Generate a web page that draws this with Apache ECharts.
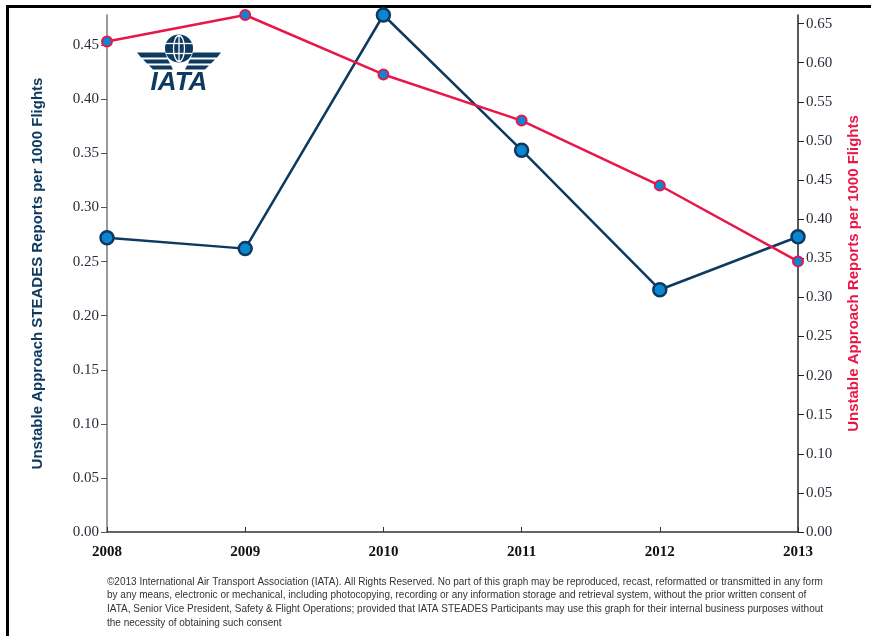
<!DOCTYPE html>
<html>
<head>
<meta charset="utf-8">
<script src="https://cdn.jsdelivr.net/npm/echarts@6/dist/echarts.min.js"></script>
<style>
  html, body { margin: 0; padding: 0; background: #fff; }
  #frame { position: absolute; left: 6px; top: 5px; width: 871px; height: 640px;
           border-left: 3px solid #000; border-top: 3px solid #000; }
  #main { position: absolute; left: 0; top: 0; width: 871px; height: 636px; }
</style>
</head>
<body>
<div id="frame"></div>
<div id="main"></div>
<script>
// data
var years = ['2008', '2009', '2010', '2011', '2012', '2013'];
var steadesRate = [0.272, 0.262, 0.478, 0.353, 0.224, 0.273];   // left axis
var unstableRate = [0.627, 0.661, 0.585, 0.526, 0.443, 0.346];  // right axis

var footer = '\u00a92013 International Air Transport Association (IATA). All Rights Reserved. No part of this graph may be reproduced, recast, reformatted or transmitted in any form\n' +
  'by any means, electronic or mechanical, including photocopying, recording or any information storage and retrieval system, without the prior written consent of\n' +
  'IATA, Senior Vice President, Safety & Flight Operations; provided that IATA STEADES Participants may use this graph for their internal business purposes without\n' +
  'the necessity of obtaining such consent';

var navy = '#0e3a60';
var red = '#e8174a';
var dotBlue = '#0a86d2';

function initChart() {
    var myChart = echarts.init(document.getElementById('main'));

    var tickLabel = { fontFamily: 'Liberation Serif', fontSize: 15, color: '#2b2b3a', showMaxLabel: false,
        formatter: function (v) { return v.toFixed(2); } };

    var option = {
        animation: false,
        grid: { left: 107, right: 73, top: 15, bottom: 104 },
        xAxis: {
            type: 'category',
            data: years,
            boundaryGap: false,
            axisLine: { lineStyle: { color: '#333', width: 1.5 } },
            axisTick: { inside: true, length: 5, alignWithLabel: true, lineStyle: { color: '#333' } },
            axisLabel: { fontFamily: 'Liberation Serif', fontWeight: 'bold', fontSize: 15, color: '#111', margin: 13 },
            splitLine: { show: false }
        },
        yAxis: [{
            type: 'value',
            min: 0, max: 0.478, interval: 0.05,
            position: 'left',
            name: 'Unstable Approach STEADES Reports per 1000 Flights',
            nameLocation: 'middle',
            nameGap: 62,
            nameTextStyle: { fontFamily: 'Liberation Sans', fontWeight: 'bold', fontSize: 15, color: '#0e3a60' },
            axisLine: { show: true, lineStyle: { color: '#777', width: 1.5 } },
            axisTick: { show: true, length: 6, lineStyle: { color: '#555' } },
            axisLabel: tickLabel,
            splitLine: { show: false }
        }, {
            type: 'value',
            min: 0, max: 0.661, interval: 0.05,
            position: 'right',
            name: 'Unstable Approach Reports per 1000 Flights',
            nameLocation: 'middle',
            nameGap: 48,
            nameTextStyle: { fontFamily: 'Liberation Sans', fontWeight: 'bold', fontSize: 15, color: red },
            axisLine: { show: true, lineStyle: { color: '#222', width: 1.5 } },
            axisTick: { show: true, length: 6, lineStyle: { color: '#222' } },
            axisLabel: tickLabel,
            splitLine: { show: false }
        }],
        series: [{
            name: 'STEADES',
            type: 'line',
            yAxisIndex: 0,
            data: steadesRate,
            symbol: 'circle',
            symbolSize: 13,
            lineStyle: { color: navy, width: 2.5 },
            itemStyle: { color: dotBlue, borderColor: navy, borderWidth: 2.5 },
            z: 3
        }, {
            name: 'Unstable',
            type: 'line',
            yAxisIndex: 1,
            data: unstableRate,
            symbol: 'circle',
            symbolSize: 10,
            lineStyle: { color: red, width: 2.5 },
            itemStyle: { color: dotBlue, borderColor: red, borderWidth: 2 },
            z: 4
        }],
        graphic: [
            // IATA logo (approximation)
            { type: 'group', left: 137, top: 33, z: 10, children: [
                { type: 'circle', shape: { cx: 42, cy: 14, r: 14 }, style: { fill: navy } },
                { type: 'ellipse', shape: { cx: 42, cy: 14, rx: 5.5, ry: 13 }, style: { fill: 'none', stroke: '#fff', lineWidth: 1.3 } },
                { type: 'line', shape: { x1: 42, y1: 1, x2: 42, y2: 27 }, style: { stroke: '#fff', lineWidth: 1.3 } },
                { type: 'line', shape: { x1: 29, y1: 9, x2: 55, y2: 9 }, style: { stroke: '#fff', lineWidth: 1.3 } },
                { type: 'line', shape: { x1: 29, y1: 19, x2: 55, y2: 19 }, style: { stroke: '#fff', lineWidth: 1.3 } },
                { type: 'polygon', shape: { points: [[0, 18], [28, 18], [30, 23], [4, 23]] }, style: { fill: navy } },
                { type: 'polygon', shape: { points: [[6, 25], [31, 25], [33, 29], [10, 29]] }, style: { fill: navy } },
                { type: 'polygon', shape: { points: [[12, 31], [34, 31], [36, 35], [16, 35]] }, style: { fill: navy } },
                { type: 'polygon', shape: { points: [[84, 18], [56, 18], [54, 23], [80, 23]] }, style: { fill: navy } },
                { type: 'polygon', shape: { points: [[78, 25], [53, 25], [51, 29], [74, 29]] }, style: { fill: navy } },
                { type: 'polygon', shape: { points: [[72, 31], [50, 31], [48, 35], [68, 35]] }, style: { fill: navy } },
                { type: 'text', x: 42, y: 35, style: { text: 'IATA', fill: navy, font: 'italic bold 26px "Liberation Sans"', textAlign: 'center' } }
            ] },
            { type: 'text', left: 107, top: 575, style: {
                text: footer, fill: '#333', font: '10px "Liberation Sans"', lineHeight: 13.7 } }
        ]
    };

    myChart.setOption(option);
}
initChart();
</script>
</body>
</html>
